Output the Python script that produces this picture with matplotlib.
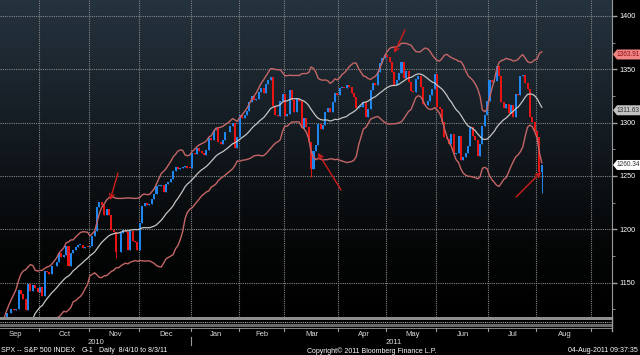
import numpy as np
import pandas as pd
import matplotlib
matplotlib.use("Agg")
import matplotlib.pyplot as plt
from matplotlib.colors import LinearSegmentedColormap
from matplotlib.patches import Polygon, Rectangle

plt.rcParams["font.family"] = ["Liberation Sans", "DejaVu Sans"]

# SPX daily closes, 8/4/10 to 8/3/11, one list per month
close_aug10 = [1127.24, 1125.81, 1121.64, 1127.79, 1121.06, 1089.47, 1083.61, 1079.25, 1079.38, 1092.54,
               1094.16, 1075.63, 1071.69, 1067.36, 1051.87, 1055.33, 1047.22, 1064.59, 1048.92, 1049.33]
close_sep10 = [1080.29, 1090.10, 1104.51, 1091.84, 1098.87, 1104.18, 1109.55, 1121.90, 1121.10, 1125.07,
               1124.66, 1125.59, 1142.71, 1139.78, 1134.28, 1124.83, 1148.67, 1142.16, 1147.70, 1144.73, 1141.20]
close_oct10 = [1146.24, 1137.03, 1160.75, 1159.97, 1158.06, 1165.15, 1165.32, 1169.77, 1178.10, 1173.81,
               1176.19, 1184.71, 1165.90, 1178.17, 1180.26, 1183.08, 1185.62, 1185.64, 1182.45, 1183.78, 1183.26]
close_nov10 = [1184.38, 1193.57, 1197.96, 1221.06, 1225.85, 1223.25, 1213.40, 1218.71, 1213.54, 1199.21,
               1197.75, 1178.34, 1178.59, 1196.69, 1199.73, 1197.84, 1180.73, 1198.35, 1189.40, 1187.76, 1180.55]
close_dec10 = [1206.07, 1221.53, 1224.71, 1223.12, 1223.75, 1228.28, 1233.00, 1240.40, 1240.46, 1241.59, 1235.23,
               1242.87, 1243.91, 1247.08, 1254.60, 1258.84, 1256.77, 1257.54, 1258.51, 1259.78, 1257.88, 1257.64]
close_jan11 = [1271.87, 1270.20, 1276.56, 1273.85, 1271.50, 1269.75, 1274.48, 1285.96, 1283.76, 1293.24,
               1295.02, 1281.92, 1280.26, 1283.35, 1290.84, 1291.18, 1296.63, 1299.54, 1276.34, 1286.12]
close_feb11 = [1307.59, 1304.03, 1307.10, 1310.87, 1319.05, 1324.57, 1320.88, 1321.87, 1329.15, 1332.32,
               1328.01, 1336.32, 1340.43, 1343.01, 1315.44, 1307.40, 1306.10, 1319.88, 1327.22]
close_mar11 = [1306.33, 1308.44, 1330.97, 1321.15, 1310.13, 1321.82, 1320.02, 1295.11, 1304.28, 1296.39, 1281.87,
               1256.88, 1273.72, 1279.21, 1298.38, 1293.77, 1297.54, 1309.66, 1313.80, 1310.19, 1319.44, 1328.26,
               1325.83]
close_apr11 = [1332.41, 1332.87, 1332.63, 1335.54, 1333.51, 1328.17, 1324.46, 1314.16, 1314.41, 1314.52,
               1319.68, 1305.14, 1312.62, 1330.36, 1337.38, 1335.25, 1347.24, 1355.66, 1360.48, 1363.61]
close_may11 = [1361.22, 1356.62, 1347.32, 1335.10, 1340.20, 1346.29, 1357.16, 1342.08, 1348.65, 1337.77,
               1329.47, 1328.98, 1340.68, 1343.60, 1333.27, 1317.37, 1316.28, 1320.47, 1325.69, 1331.10, 1345.20]
close_jun11 = [1314.55, 1312.94, 1300.16, 1286.17, 1284.94, 1279.56, 1289.00, 1270.98, 1271.83, 1287.87, 1265.42,
               1267.64, 1271.50, 1278.36, 1295.52, 1287.14, 1283.50, 1268.45, 1280.10, 1296.67, 1307.41, 1320.64]
close_jul11 = [1339.67, 1337.88, 1339.22, 1353.22, 1343.80, 1319.49, 1313.64, 1317.72, 1308.87, 1316.14,
               1305.44, 1326.73, 1325.84, 1343.80, 1345.02, 1337.43, 1331.94, 1304.89, 1300.67, 1292.28]
close_aug11 = [1286.94, 1254.05, 1260.34]

month_names = ["Aug", "Sep", "Oct", "Nov", "Dec", "Jan", "Feb", "Mar", "Apr", "May", "Jun", "Jul", "Aug"]
# trading days in Aug 2011 (month is only partly drawn)
days_aug11_full = 23

holidays = ["2010-09-06", "2010-11-25", "2010-12-24", "2011-01-17",
            "2011-02-21", "2011-04-22", "2011-05-30", "2011-07-04"]

# a few intraday extremes that stick out on the chart
low_marks = {"2011-08-03": 1234.25, "2011-03-16": 1249.05, "2010-11-16": 1173.00}

# last values shown in the tags on the right
tag_values = [1363.91, 1311.63, 1260.34]
tag_text = ["1363.91", "1311.63", "1260.34"]

months = [close_aug10, close_sep10, close_oct10, close_nov10, close_dec10, close_jan11, close_feb11,
          close_mar11, close_apr11, close_may11, close_jun11, close_jul11, close_aug11]
close = np.concatenate([np.array(m) for m in months])
n = len(close)
idx = np.arange(n)
dates = pd.bdate_range("2010-08-04", periods=n + 10, freq="C", holidays=holidays)[:n]
date_str = list(dates.strftime("%Y-%m-%d"))

# month boundaries (in bar index)
starts = [0]
for m in months[:-1]:
    starts.append(starts[-1] + len(m))
starts = starts[1:] + [starts[-1] + days_aug11_full]   # Sep10 ... Sep11 starts
mids = [(a + b) / 2 for a, b in zip([0] + starts[:-1], starts)]

opn = np.concatenate([[close[0]], close[:-1]])
lo = np.minimum(opn, close)
hi = np.maximum(opn, close)
for d, v in low_marks.items():
    lo[date_str.index(d)] = v

s = pd.Series(close)
mid = s.rolling(20).mean()
sd = s.rolling(20).std(ddof=0)
upper = mid + 2 * sd
lower = mid - 2 * sd

W, H = 640, 355
fig = plt.figure(figsize=(W / 100, H / 100), dpi=100, facecolor="black")
ax = fig.add_axes([0, 38 / H, 612 / W, 317 / H])

x0, x1 = 24.2, 281.5
y0, y1 = 1117.8, 1415.0

cmap = LinearSegmentedColormap.from_list(
    "bg", [(0, "#000000"), (0.2, "#040505"), (0.45, "#0e1317"), (0.7, "#19222a"), (1.0, "#25333e")])
grad = np.linspace(1, 0, 256).reshape(-1, 1)
ax.imshow(grad, extent=[x0, x1, y0, y1], aspect="auto", cmap=cmap, zorder=0)

for v in range(1150, 1401, 50):
    ax.axhline(v, color="#858585", lw=0.8, ls=(0, (1, 1)), zorder=1)
for st in starts:
    ax.axvline(st - 0.5, color="#858585", lw=0.8, ls=(0, (1, 1)), zorder=1)

up = close >= opn
cols = np.where(up, "#1f86f0", "#e81414")
ax.vlines(idx, lo, hi, colors=cols, lw=0.7, zorder=3)
ax.bar(idx, np.maximum(np.abs(close - opn), 0.8), bottom=np.minimum(opn, close),
       width=0.85, color=cols, linewidth=0, zorder=3)

ax.plot(idx, upper, color="#c46666", lw=1.0, zorder=4)
ax.plot(idx, lower, color="#c46666", lw=1.0, zorder=4)
ax.plot(idx, mid, color="#c4c4c4", lw=0.9, zorder=4)

arrows = [((73.8, 1252.8), (70.5, 1227.5)),
          ((167.6, 1236.9), (157.9, 1271.6)),
          ((194.5, 1386.9), (189.9, 1365.3)),
          ((241.2, 1230.3), (251.7, 1253.8))]
for tail, tip in arrows:
    ax.annotate("", xy=tip, xytext=tail,
                arrowprops=dict(arrowstyle="->", color="#d01c1c", lw=1.0,
                                mutation_scale=8, shrinkA=0, shrinkB=0), zorder=5)

ax.yaxis.tick_right()
ax.set_yticks(range(1150, 1401, 50))
ax.set_yticks(range(1125, 1401, 25), minor=True)
ax.tick_params(axis="y", which="both", colors="#a0a0a0", labelcolor="white",
               labelsize=5.2, direction="out", pad=1.5)
ax.tick_params(axis="y", which="major", length=3.5, width=1)
ax.tick_params(axis="y", which="minor", length=2)
ax.set_xticks([])
ax.set_xlim(x0, x1)
ax.set_ylim(y0, y1)
for side in ["top", "left", "bottom"]:
    ax.spines[side].set_visible(False)
ax.spines["right"].set_color("#9a9a9a")

# overlay in pixel coordinates for tags, strip and footer
ov = fig.add_axes([0, 0, 1, 1], facecolor="none")
ov.set_xlim(0, W)
ov.set_ylim(H, 0)
ov.axis("off")

fig.canvas.draw()


def py(v):
    return H - ax.transData.transform((x0, v))[1]


def px(i):
    return (i - x0) / (x1 - x0) * 612


tag_fill = ["#f08484", "#c2c2c2", "#ffffff"]
tag_fc = ["#8a1010", "#303030", "#303030"]
for v, t, fc, tc in zip(tag_values, tag_text, tag_fill, tag_fc):
    y = py(v)
    ov.add_patch(Polygon([(613, y), (617, y - 5), (640, y - 5), (640, y + 5), (617, y + 5)],
                         closed=True, facecolor=fc, edgecolor="none", zorder=6))
    ov.text(616.5, y, t, color=tc, fontsize=4.7, ha="left", va="center", zorder=7)

# navigator strip under the plot
ov.add_patch(Rectangle((0, 317), 612, 2.5, facecolor="#8e8e8e", edgecolor="none"))
ov.plot([0, 612], [321.5, 321.5], color="#b0b0b0", lw=0.8, ls=(0, (1, 1)))
ov.add_patch(Rectangle((0, 323.5), 612, 3, facecolor="#6a6a6a", edgecolor="none"))
ov.plot([0, 612], [327.8, 327.8], color="#9a9a9a", lw=0.6)
ov.plot([612, 612], [317, 331], color="#9a9a9a", lw=1)

for st in starts:
    ov.plot([px(st - 0.5)] * 2, [328, 331], color="#9a9a9a", lw=0.8)
for m, name in zip(mids, month_names):
    if 0 < px(m) < 612:
        ov.text(px(m), 334.5, name, color="#dcdcdc", fontsize=5.5, ha="center", va="center")
ov.text(96, 342.5, "2010", color="#dcdcdc", fontsize=5.5, ha="center", va="center")
ov.text(394, 342.5, "2011", color="#dcdcdc", fontsize=5.5, ha="center", va="center")
ov.plot([px(starts[4] - 0.5)] * 2, [337, 345], color="#9a9a9a", lw=0.8)

ov.text(1, 351, "SPX -- S&P 500 INDEX", color="white", fontsize=5, ha="left", va="center")
ov.text(82, 351, "G-1", color="white", fontsize=5, ha="left", va="center")
ov.text(99, 351, "Daily  8/4/10 to 8/3/11", color="white", fontsize=5, ha="left", va="center")
ov.text(372, 351, "Copyright\u00a9 2011 Bloomberg Finance L.P.", color="white", fontsize=5,
        ha="center", va="center")
ov.text(638, 351, "04-Aug-2011 09:37:35", color="white", fontsize=5, ha="right", va="center")

fig.savefig("out.png", dpi=100, facecolor="black")
